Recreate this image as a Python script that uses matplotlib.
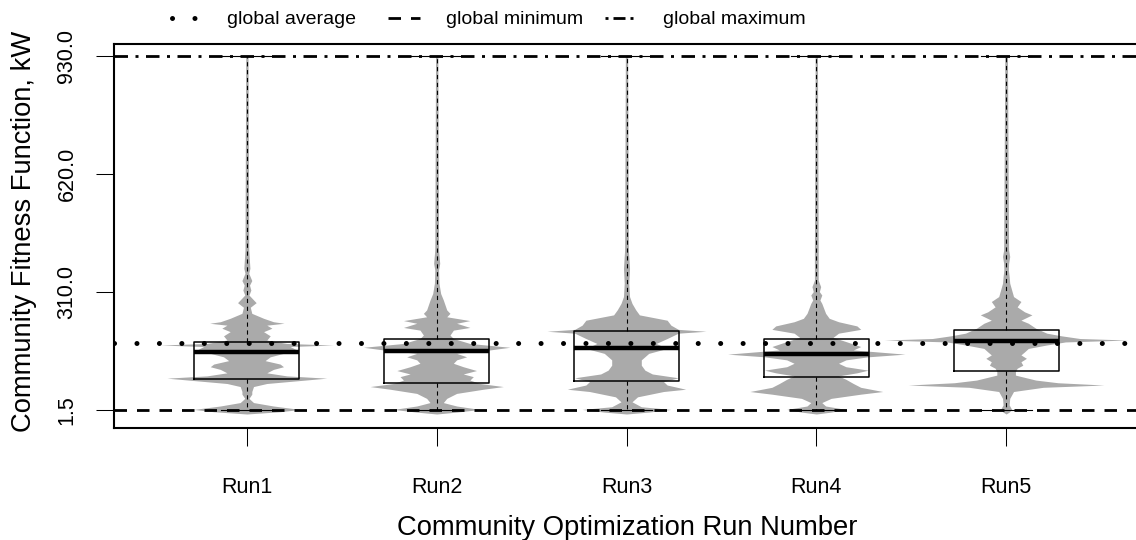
import numpy as np
import matplotlib.pyplot as plt
from matplotlib.lines import Line2D

plt.rcParams['font.family'] = ['Liberation Sans', 'DejaVu Sans']

# Data
runs = ['Run1', 'Run2', 'Run3', 'Run4', 'Run5']
q1 = [82.8, 71.5, 76.8, 87.3, 103.8]
medians = [153.6, 156.2, 163.3, 148.4, 182.5]
q3 = [179.8, 186.9, 208.7, 186.9, 210.5]
whisk_lo = [1.5, 1.5, 1.5, 1.5, 1.5]
whisk_hi = [930.0, 930.0, 930.0, 930.0, 930.0]
global_avg = 178.0
global_min = 1.5
global_max = 930.0
yticks = [1.5, 310.0, 620.0, 930.0]
ytick_labels = ['1.5', '310.0', '620.0', '930.0']

# bean outlines: (kW, half width in run units)
run1_bean = [(930, .006), (421, .01), (373, .016), (360, .01), (341, .026), (329, .014),
             (316, .021), (303, .011), (283, .049), (271, .018), (255, .026), (242, .088),
             (233, .14), (229, .196), (224, .105), (216, .132), (207, .088), (196, .123),
             (185, .105), (176, .21), (172, .456), (168, .228), (159, .263), (150, .193),
             (141, .123), (131, .096), (122, .175), (115, .193), (108, .14), (99, .105),
             (91, .21), (85, .421), (78, .263), (71, .105), (63, .035), (50, .026),
             (43, .026), (32, .011), (21, .035), (12, .14), (3, .28), (-3, .175), (-9, 0)]
run2_bean = [(930, .006), (421, .01), (386, .016), (369, .01), (334, .012), (307, .021),
             (290, .035), (277, .044), (264, .053), (255, .07), (246, .053), (236, .175),
             (229, .105), (218, .175), (211, .088), (198, .07), (189, .088), (176, .175),
             (166, .386), (159, .28), (150, .105), (141, .158), (133, .105), (124, .088),
             (115, .14), (105, .21), (96, .14), (89, .193), (80, .175), (71, .228),
             (63, .351), (56, .246), (45, .105), (32, .053), (21, .035), (12, .105),
             (3, .228), (-4, .105), (-9, 0)]
run3_bean = [(930, .006), (421, .01), (373, .016), (334, .012), (299, .016), (281, .029),
             (264, .049), (251, .068), (237, .214), (224, .234), (213, .273), (208, .419),
             (203, .273), (189, .214), (176, .156), (163, .214), (150, .117), (133, .078),
             (119, .078), (106, .097), (96, .136), (86, .273), (76, .195), (67, .214),
             (56, .312), (50, .195), (36, .058), (23, .029), (10, .078), (3, .234),
             (-4, .117), (-9, 0)]
run4_bean = [(930, .006), (421, .01), (342, .01), (325, .023), (312, .016), (303, .029),
             (290, .019), (281, .029), (268, .039), (255, .049), (242, .068), (233, .117),
             (222, .214), (213, .234), (203, .117), (192, .088), (181, .156), (168, .234),
             (159, .195), (148, .467), (141, .273), (133, .156), (124, .117), (115, .156),
             (106, .273), (99, .214), (91, .117), (82, .156), (71, .195), (61, .234),
             (50, .35), (43, .234), (32, .078), (21, .029), (12, .049), (3, .156),
             (-4, .078), (-9, 0)]
run5_bean = [(930, .007), (421, .013), (404, .019), (386, .013), (369, .012), (351, .016),
             (334, .019), (299, .039), (286, .078), (272, .058), (259, .097), (251, .136),
             (237, .078), (229, .117), (216, .156), (203, .214), (196, .292), (189, .389),
             (185, .643), (180, .312), (172, .214), (163, .117), (154, .097), (146, .078),
             (137, .107), (128, .078), (119, .088), (111, .058), (102, .049), (93, .049),
             (80, .156), (73, .273), (67, .516), (61, .195), (50, .039), (32, .019),
             (15, .016), (3, .029), (-4, .016), (-9, 0)]
beans = [run1_bean, run2_bean, run3_bean, run4_bean, run5_bean]

W, H = 1136, 540
fig = plt.figure(figsize=(W / 100, H / 100), dpi=100)
ax = fig.add_axes([114 / W, 1 - 428 / H, 1025 / W, 384 / H])
ax.set_xlim(0.3, 5.7)
ax.set_ylim(-45.7, 961.4)

gray = '#aaaaaa'
pos = np.arange(1, len(runs) + 1)
for p, bean in zip(pos, beans):
    yv = np.array([b[0] for b in bean])
    hw = np.array([b[1] for b in bean])
    ax.fill_betweenx(yv, p - hw, p + hw, color=gray, lw=0, zorder=1)

stats = [dict(med=m, q1=a, q3=b, whislo=lo, whishi=hi, fliers=[])
         for m, a, b, lo, hi in zip(medians, q1, q3, whisk_lo, whisk_hi)]
ax.bxp(stats, positions=pos, widths=0.552, capwidths=0.27, showfliers=False,
       manage_ticks=False, zorder=3,
       boxprops=dict(color='k', lw=1.1),
       whiskerprops=dict(color='k', lw=0.8, ls=(0, (3.8, 3.3))),
       capprops=dict(color='k', lw=0.8),
       medianprops=dict(color='k', lw=3.2, solid_capstyle='butt'))

avg_style = dict(color='k', lw=3.6, ls=(0, (0.01, 4.48)), dash_capstyle='round')
min_style = dict(color='k', lw=2.0, ls=(0, (4.5, 3.6)))
max_style = dict(color='k', lw=2.0, ls=(0, (4.86, 2.7, 1.08, 2.7)))
ax.axhline(global_avg, zorder=5, **avg_style)
ax.axhline(global_min, zorder=5, **min_style)
ax.axhline(global_max, zorder=5, **max_style)

for s in ax.spines.values():
    s.set_linewidth(1.5)
ax.set_xticks(pos, runs)
ax.set_yticks(yticks, ytick_labels)
ax.tick_params(direction='out', length=13, width=0.75, labelsize=15.5)
ax.tick_params(axis='x', pad=22)
ax.tick_params(axis='y', pad=13.3, labelrotation=90)
for lab in ax.get_yticklabels():
    lab.set_va('center')

ax.set_xlabel('Community Optimization Run Number', fontsize=19.7)
ax.xaxis.set_label_coords(0.501, -0.2253)
ax.set_ylabel('Community Fitness Function, kW', fontsize=19.7)
ax.yaxis.set_label_coords(-0.0747, 0.513)

# legend on top, drawn by hand
leg_labels = ['global average', 'global minimum', 'global maximum']
leg_styles = [avg_style, min_style,
              dict(color='k', lw=2.0, ls=(0, (1.08, 1.8, 4.32, 1.8)))]
handle_x = [172, 388, 605]
handle_len = [32, 32, 30]
text_x = [227, 446, 663]
for lab, st, hx, hl, tx in zip(leg_labels, leg_styles, handle_x, handle_len, text_x):
    fig.add_artist(Line2D([hx / W, (hx + hl) / W], [1 - 18 / H, 1 - 18 / H],
                          transform=fig.transFigure, **st))
    fig.text(tx / W, 1 - 19 / H, lab, fontsize=14, va='center', ha='left')

fig.savefig('out.png', dpi=100)
